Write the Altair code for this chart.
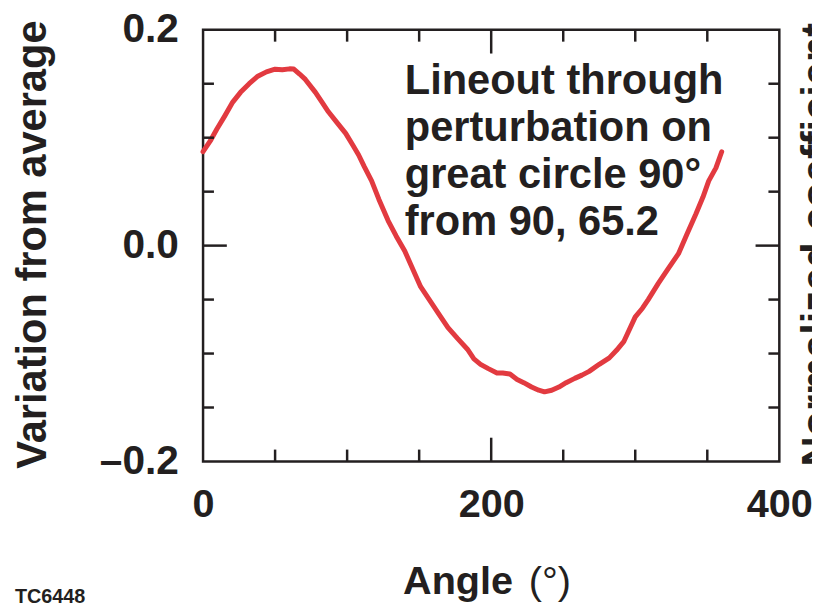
import altair as alt
import pandas as pd

# ---- data ----
angle = [0, 5, 9.6, 15, 20.6, 26, 32, 38, 44, 50, 55, 60, 63, 67, 71, 78, 83, 87, 93,
         99, 104, 108, 112, 117, 122, 128.5, 134, 140, 146, 151, 157, 163, 170, 176.6,
         183.5, 188, 192.6, 198, 204, 208, 213, 218, 222.6, 228, 233, 237, 242, 247,
         252, 258, 263, 268, 275, 282, 287, 292, 300, 305, 309, 316, 323, 330, 336,
         342, 347, 351, 356, 360]
variation = [0.087, 0.097, 0.108, 0.120, 0.133, 0.142, 0.150, 0.157, 0.161, 0.1635,
             0.163, 0.1638, 0.1636, 0.159, 0.154, 0.142, 0.132, 0.124, 0.114,
             0.104, 0.093, 0.084, 0.073, 0.060, 0.043, 0.023, 0.009, -0.005, -0.023,
             -0.038, -0.050, -0.062, -0.076, -0.086, -0.096, -0.105, -0.110, -0.114,
             -0.118, -0.118, -0.119, -0.124, -0.127, -0.131, -0.134, -0.1355, -0.134,
             -0.131, -0.127, -0.123, -0.120, -0.1165, -0.110, -0.104, -0.097, -0.089,
             -0.066, -0.058, -0.050, -0.035, -0.021, -0.0075, 0.011, 0.029, 0.045,
             0.060, 0.072, 0.087]

x_labels = [0, 200, 400]
y_labels = [-0.2, 0.0, 0.2]
x_minor = [50, 100, 150, 250, 300, 350]
x_major = [200]
y_minor = [-0.15, -0.1, -0.05, 0.05, 0.1, 0.15]
y_major = [0.0]

note_lines = ["Lineout through", "perturbation on", "great circle 90°", "from 90, 65.2"]

# ---- styling ----
W, H = 582, 436
INK = "#231f20"
RED = "#e23a40"
FONT = "Liberation Sans"

xs = alt.Scale(domain=[0, 400], nice=False, zero=False)
ys = alt.Scale(domain=[-0.2, 0.2], nice=False, zero=False)

line_df = pd.DataFrame({"angle": angle, "v": variation})

line = alt.Chart(line_df).mark_line(color=RED, strokeWidth=5, strokeCap="round",
                                    strokeJoin="round").encode(
    x=alt.X("angle:Q", scale=xs,
            axis=alt.Axis(values=x_labels, title="", ticks=False, tickSize=0,
                          domain=False, grid=False, labelFont=FONT,
                          labelFontSize=40, labelFontWeight="bold",
                          labelColor=INK, labelPadding=24, labelFlush=False,
                          labelOverlap=False)),
    y=alt.Y("v:Q", scale=ys,
            axis=alt.Axis(values=y_labels, title="", ticks=False, tickSize=0,
                          domain=False, grid=False, labelFont=FONT,
                          labelFontSize=41, labelFontWeight="bold",
                          labelColor=INK, labelPadding=25, labelFlush=False,
                          labelOverlap=False,
                          labelExpr="datum.value < 0 ? '\u2013' + format(-datum.value, '.1f') : format(datum.value, '.1f')")),
)

def xticks(vals, length):
    d = pd.DataFrame({"t": vals})
    bottom = alt.Chart(d).mark_rule(color=INK, strokeWidth=2.5).encode(
        x=alt.X("t:Q", scale=xs), y=alt.value(H), y2=alt.value(H - length))
    top = alt.Chart(d).mark_rule(color=INK, strokeWidth=2.5).encode(
        x=alt.X("t:Q", scale=xs), y=alt.value(0), y2=alt.value(length))
    return [bottom, top]

def yticks(vals, length):
    d = pd.DataFrame({"t": vals})
    left = alt.Chart(d).mark_rule(color=INK, strokeWidth=2.5).encode(
        y=alt.Y("t:Q", scale=ys), x=alt.value(0), x2=alt.value(length))
    right = alt.Chart(d).mark_rule(color=INK, strokeWidth=2.5).encode(
        y=alt.Y("t:Q", scale=ys), x=alt.value(W), x2=alt.value(W - length))
    return [left, right]

one = alt.Data(values=[{"a": 1}])

note = alt.Chart(one).mark_text(
    text=note_lines, font=FONT, fontSize=42, fontWeight="bold", color=INK,
    align="left", baseline="alphabetic", lineHeight=47.5).encode(
    x=alt.datum(140, scale=xs), y=alt.datum(0.1404, scale=ys))

ytitle = alt.Chart(one).mark_text(
    text="Variation from average", font=FONT, fontSize=42, fontWeight="bold",
    color=INK, angle=270, align="center", baseline="top").encode(
    x=alt.value(-192), y=alt.value(217))

rtitle = alt.Chart(one).mark_text(
    text="Normalized coefficient", font=FONT, fontSize=42, fontWeight="bold",
    color=INK, angle=270, align="center", baseline="top").encode(
    x=alt.value(601), y=alt.value(217))

xtitle_b = alt.Chart(one).mark_text(
    text="Angle", font=FONT, fontSize=40, fontWeight="bold", color=INK,
    align="left", baseline="alphabetic").encode(x=alt.value(202), y=alt.value(570))
xtitle_n = alt.Chart(one).mark_text(
    text="(°)", font=FONT, fontSize=40, fontWeight="normal", color=INK,
    align="left", baseline="alphabetic").encode(x=alt.value(329), y=alt.value(570))

tc = alt.Chart(one).mark_text(
    text="TC6448", font=FONT, fontSize=20, fontWeight="bold", color=INK,
    align="left", baseline="alphabetic").encode(x=alt.value(-190), y=alt.value(579))

layers = [line] + xticks(x_minor, 12) + xticks(x_major, 24) + yticks(y_minor, 11) + \
    yticks(y_major, 24) + [note, ytitle, rtitle, xtitle_b, xtitle_n, tc]

chart = alt.layer(*layers).properties(
    width=W, height=H,
    autosize=alt.AutoSizeParams(type="none"),
    padding={"left": 197, "top": 19, "right": 33, "bottom": 145},
    background="white",
).configure_view(stroke=INK, strokeWidth=2.5)

chart.save("out.html", embed_options={"renderer": "svg", "actions": False})
